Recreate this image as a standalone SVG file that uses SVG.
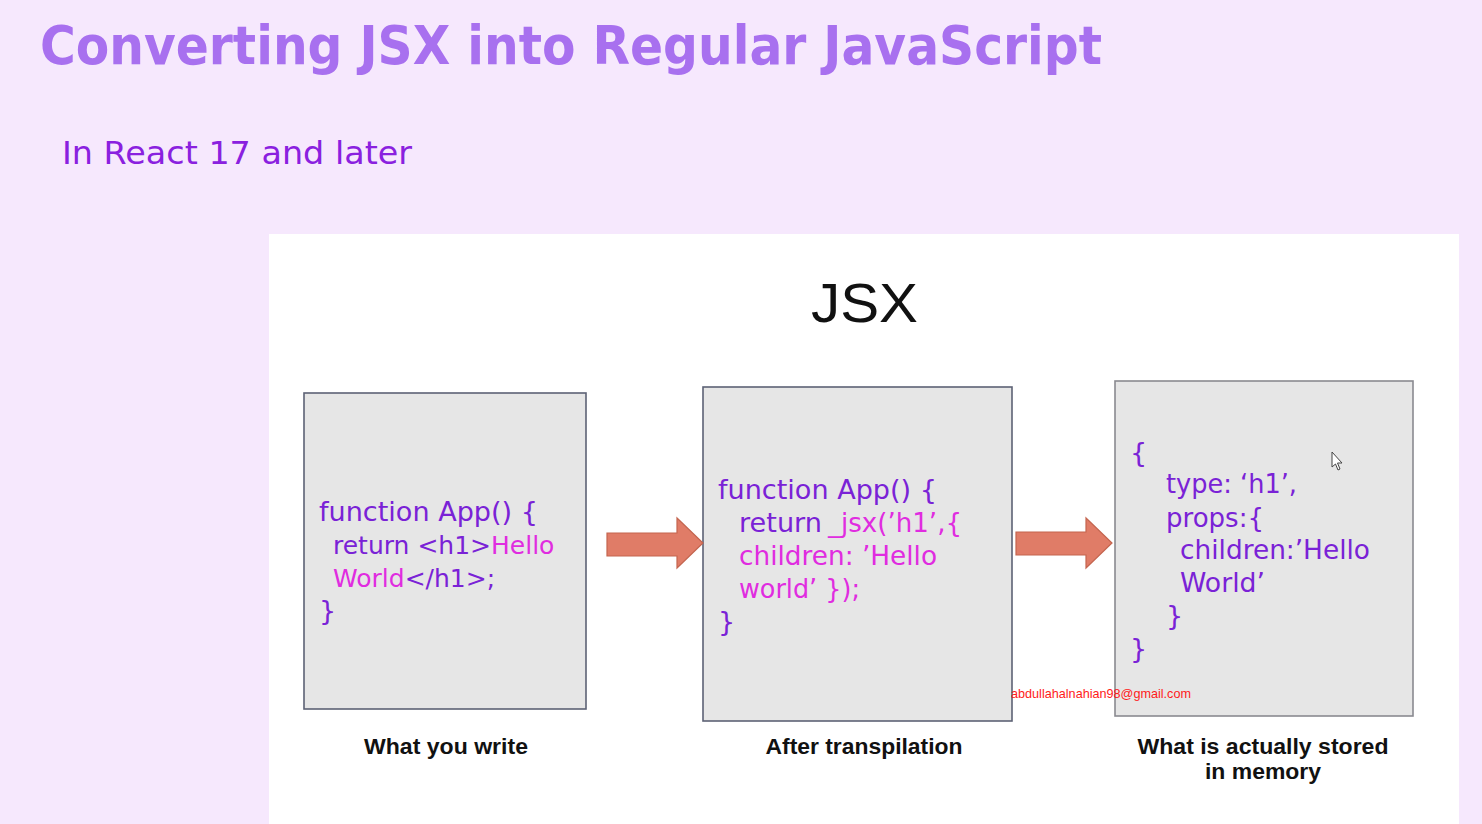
<svg xmlns="http://www.w3.org/2000/svg" width="1482" height="824" viewBox="0 0 1482 824">
<style>
.box{fill:#e6e6e6;stroke:#5d6275;stroke-width:1.6}
.code{font-family:"DejaVu Sans",sans-serif;font-size:27px}
.p{fill:#7a22d6}
.m{fill:#e02ce0}
.lbl{font-family:"Liberation Sans",Arial,sans-serif;font-weight:bold;font-size:22px;fill:#111;text-anchor:middle}
.arrow{fill:#e07c67;stroke:#c4654f;stroke-width:1.2}
</style>
<rect x="0" y="0" width="1482" height="824" fill="#f6e8fd"/>
<rect x="269" y="234" width="1190" height="590" fill="#ffffff"/>
<g id="title">
<text x="40" y="64" font-family="DejaVu Sans, sans-serif" font-weight="bold" font-size="54" fill="#a870ef" textLength="1062" lengthAdjust="spacingAndGlyphs">Converting JSX into Regular JavaScript</text>
<text x="62" y="164" font-family="DejaVu Sans, sans-serif" font-size="32" fill="#8a20df" textLength="350" lengthAdjust="spacingAndGlyphs">In React 17 and later</text>
<text x="811" y="322" font-family="Liberation Sans, Arial, sans-serif" font-size="56" fill="#111" textLength="107" lengthAdjust="spacingAndGlyphs">JSX</text>
</g>
<g id="node-write">
<rect class="box" x="304" y="393" width="282" height="316"/>
<text class="code p" x="319" y="521" textLength="219" lengthAdjust="spacingAndGlyphs">function App() {</text>
<text class="code" x="333" y="554" style="font-size:25px"><tspan class="p">return &lt;h1&gt;</tspan><tspan class="m">Hello</tspan></text>
<text class="code" x="333" y="587" style="font-size:25px"><tspan class="m">World</tspan><tspan class="p">&lt;/h1&gt;;</tspan></text>
<text class="code p" x="319" y="620">}</text>
<text class="lbl" x="446" y="754" textLength="164" lengthAdjust="spacingAndGlyphs">What you write</text>
</g>
<g id="node-transpiled">
<rect class="box" x="703" y="387" width="309" height="334"/>
<text class="code p" x="718" y="499" textLength="219" lengthAdjust="spacingAndGlyphs">function App() {</text>
<text class="code p" x="739" y="532" textLength="83" lengthAdjust="spacingAndGlyphs">return</text>
<text class="code m" x="828" y="532" textLength="134" lengthAdjust="spacingAndGlyphs">_jsx(’h1’,{</text>
<text class="code m" x="739" y="565" textLength="198" lengthAdjust="spacingAndGlyphs">children: ’Hello</text>
<text class="code m" x="739" y="598" textLength="121" lengthAdjust="spacingAndGlyphs">world’ });</text>
<text class="code p" x="718" y="631">}</text>
<text class="lbl" x="864" y="754" textLength="197" lengthAdjust="spacingAndGlyphs">After transpilation</text>
</g>
<g id="node-memory">
<rect class="box" x="1115" y="381" width="298" height="335" style="stroke:#8a8a90"/>
<text class="code p" x="1130" y="462">{</text>
<text class="code p" x="1166" y="493" textLength="131" lengthAdjust="spacingAndGlyphs">type: ‘h1’,</text>
<text class="code p" x="1166" y="527" textLength="98" lengthAdjust="spacingAndGlyphs">props:{</text>
<text class="code p" x="1180" y="559" textLength="190" lengthAdjust="spacingAndGlyphs">children:’Hello</text>
<text class="code p" x="1180" y="592" textLength="85" lengthAdjust="spacingAndGlyphs">World’</text>
<text class="code p" x="1166" y="625">}</text>
<text class="code p" x="1130" y="658">}</text>
<text class="lbl" x="1263" y="754" textLength="251" lengthAdjust="spacingAndGlyphs">What is actually stored</text>
<text class="lbl" x="1263" y="779" textLength="116" lengthAdjust="spacingAndGlyphs">in memory</text>
</g>
<g id="connectors">
<polygon class="arrow" points="607,533 677,533 677,518 703,543 677,568 677,556 607,556"/>
<polygon class="arrow" points="1016,532 1086,532 1086,518 1112,543 1086,568 1086,555 1016,555"/>
</g>
<text x="1011" y="698" font-family="Liberation Sans, Arial, sans-serif" font-size="13" fill="#ff1a1a" textLength="180" lengthAdjust="spacingAndGlyphs">abdullahalnahian98@gmail.com</text>
<polygon points="1332,452 1332,467 1335.5,464 1338,470 1340,469 1337.5,463 1342,463" fill="#ffffff" stroke="#444" stroke-width="1"/>
</svg>
